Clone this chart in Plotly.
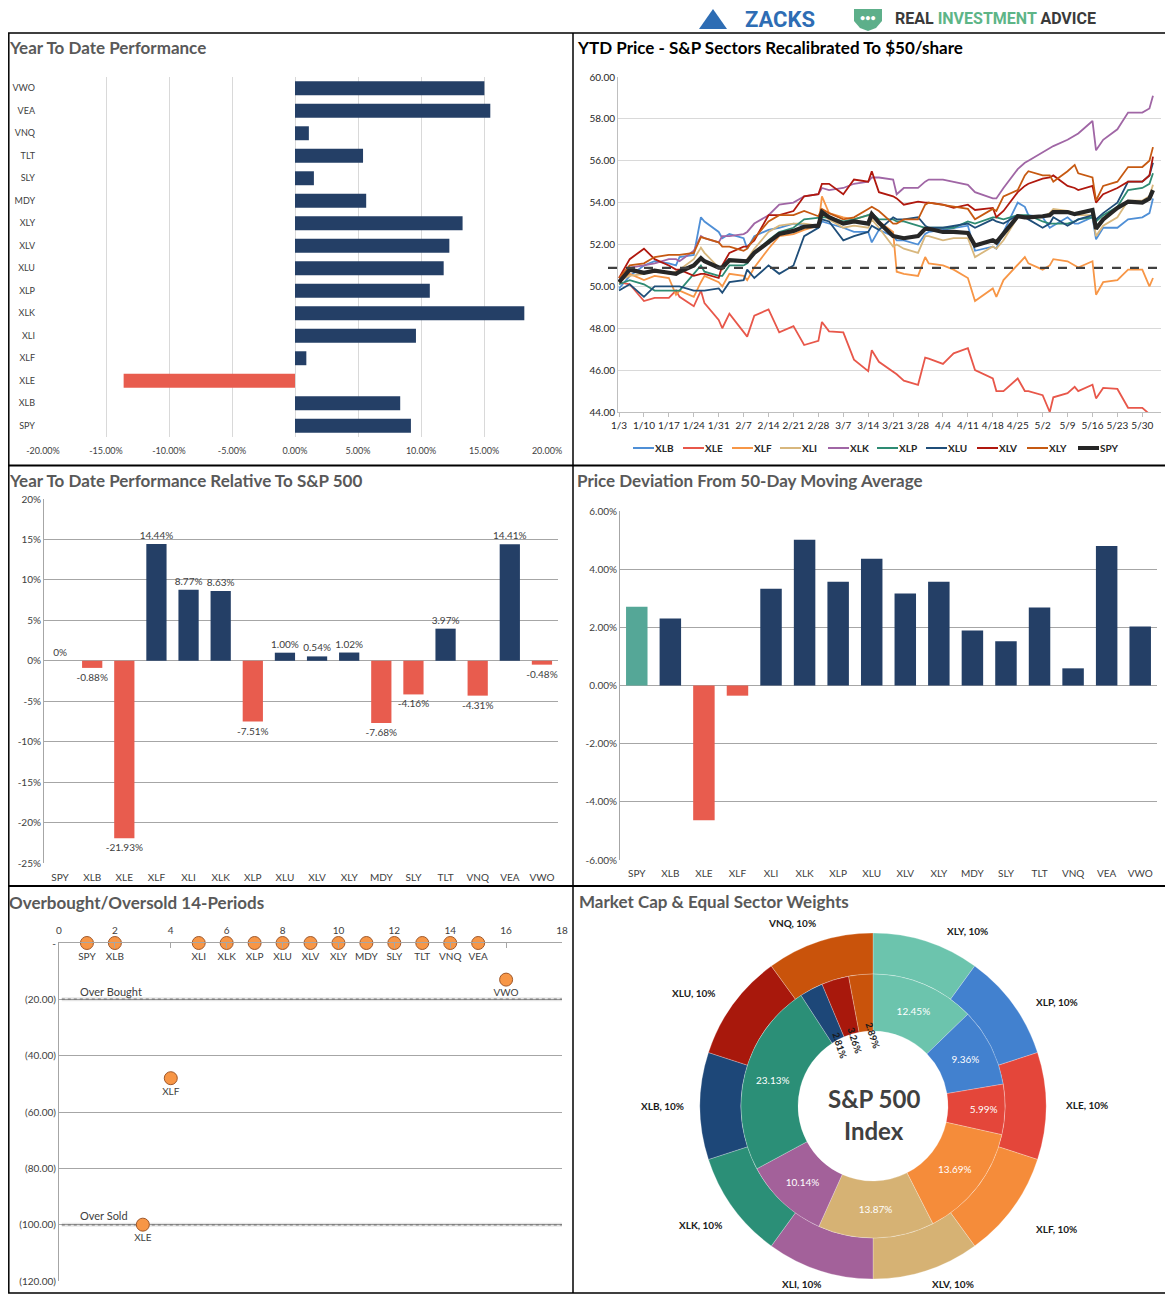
import plotly.graph_objects as go

# page body has an 8px margin; the figure is sized/offset so reference pixel coords line up
OFF = 8
W, H = 1173 - OFF, 1299 - OFF
def fx(p): return (p - OFF) / W
def fy(p): return 1 - (p - OFF) / H

FONT = "Lato"
NAVY = "#243F66"
RED = "#E85C4E"
TEAL = "#55A797"
GRAY_TXT = "#404040"

# ---------------- data ----------------
tickers = ["SPY", "XLB", "XLE", "XLF", "XLI", "XLK", "XLP", "XLU", "XLV", "XLY",
           "MDY", "SLY", "TLT", "VNQ", "VEA", "VWO"]
ytd_perf = [9.2, 8.35, -13.6, 0.9, 9.6, 18.2, 10.7, 11.8, 12.25, 13.3,
            5.65, 1.5, 5.4, 1.1, 15.5, 15.03]
ytd_ticks = [-20, -15, -10, -5, 0, 5, 10, 15, 20]

rel_perf = [0, -0.88, -21.93, 14.44, 8.77, 8.63, -7.51, 1.00, 0.54, 1.02,
            -7.68, -4.16, 3.97, -4.31, 14.41, -0.48]
rel_ticks = [20, 15, 10, 5, 0, -5, -10, -15, -20, -25]

dev_50d = [2.71, 2.30, -4.63, -0.35, 3.33, 5.01, 3.57, 4.36, 3.16, 3.57,
           1.89, 1.52, 2.68, 0.59, 4.80, 2.03]
dev_ticks = [6, 4, 2, 0, -2, -4, -6]

ob_x = [1, 2, 3, 4, 5, 6, 7, 8, 9, 10, 11, 12, 13, 14, 15, 16]
ob_y = [0, 0, -100, -48, 0, 0, 0, 0, 0, 0, 0, 0, 0, 0, 0, -13]
ob_yticks = [0, -20, -40, -60, -80, -100, -120]
ob_yticktext = ["-", "(20.00)", "(40.00)", "(60.00)", "(80.00)", "(100.00)", "(120.00)"]
overbought_level = -20
oversold_level = -100

dates = ["2017-01-03", "2017-01-06", "2017-01-10", "2017-01-13", "2017-01-17", "2017-01-19",
         "2017-01-20", "2017-01-24", "2017-01-26", "2017-01-27", "2017-01-31", "2017-02-01",
         "2017-02-03", "2017-02-07", "2017-02-08", "2017-02-10", "2017-02-14", "2017-02-17",
         "2017-02-21", "2017-02-24", "2017-02-28", "2017-03-01", "2017-03-03", "2017-03-07",
         "2017-03-10", "2017-03-14", "2017-03-15", "2017-03-17", "2017-03-21", "2017-03-22",
         "2017-03-24", "2017-03-28", "2017-03-30", "2017-03-31", "2017-04-04", "2017-04-07",
         "2017-04-11", "2017-04-13", "2017-04-18", "2017-04-19", "2017-04-21", "2017-04-25",
         "2017-04-27", "2017-04-28", "2017-05-02", "2017-05-04", "2017-05-05", "2017-05-09",
         "2017-05-11", "2017-05-12", "2017-05-16", "2017-05-17", "2017-05-19", "2017-05-23",
         "2017-05-26", "2017-05-30", "2017-06-01", "2017-06-02"]

xlb = [49.9, 50.5, 51.0, 51.2, 51.1, 51.0, 51.4, 51.5, 53.3, 53.1, 52.6, 52.3, 52.5, 52.3, 51.8,
       52.4, 52.7, 52.8, 53.0, 52.9, 52.8, 53.1, 53.0, 52.8, 52.6, 52.6, 52.1, 52.7, 52.4, 52.2,
       52.2, 52.0, 52.5, 52.6, 52.7, 52.8, 52.9, 51.7, 51.9, 51.8, 52.6, 54.0, 53.8, 53.4, 53.3,
       52.8, 52.9, 53.3, 53.0, 53.0, 53.3, 52.25, 52.8, 52.8, 53.2, 53.3, 53.5, 54.2]
xle = [50.2, 50.1, 49.3, 49.45, 49.45, 49.8, 49.5, 49.05, 49.8, 49.2, 48.4, 48.0, 48.7, 47.8, 47.6,
       48.6, 48.9, 47.8, 48.1, 47.2, 47.4, 48.3, 47.85, 47.8, 46.5, 45.95, 46.95, 46.4, 45.95, 45.8,
       45.5, 45.3, 46.6, 46.55, 46.3, 46.8, 47.05, 46.0, 45.6, 45.0, 45.0, 45.6, 45.0, 45.0, 44.8,
       44.0, 44.7, 44.9, 45.2, 45.0, 45.3, 44.65, 45.15, 45.1, 44.2, 44.2, 43.9, 43.8]
xlf = [50.2, 50.6, 50.3, 50.5, 50.4, 49.6, 49.8, 49.5, 50.2, 50.5, 50.2, 50.0, 50.6, 50.5, 50.3,
       50.9, 51.8, 52.4, 52.5, 52.7, 52.9, 54.3, 53.5, 53.3, 53.2, 53.4, 53.3, 53.1, 52.6, 50.7,
       50.6, 50.5, 51.4, 51.1, 51.0, 50.8, 50.4, 49.3, 49.9, 49.5, 50.3, 51.0, 51.4, 51.1, 50.8,
       51.0, 51.3, 51.2, 51.0, 50.9, 51.2, 49.6, 50.2, 50.3, 50.8, 50.8, 50.0, 50.4]
xli = [50.3, 50.5, 50.6, 50.8, 50.6, 50.7, 50.8, 51.3, 51.85, 51.6, 50.9, 50.8, 51.2, 51.2, 51.3,
       51.8, 52.6, 52.9, 53.0, 53.0, 52.9, 53.4, 53.2, 52.8, 52.9, 52.8, 53.2, 52.8, 51.9, 52.0,
       51.8, 51.6, 52.4, 52.4, 52.2, 52.3, 52.3, 51.4, 51.9, 51.8, 52.2, 53.3, 53.3, 53.3, 53.3,
       53.5, 53.7, 53.6, 53.5, 53.4, 53.4, 52.4, 52.9, 53.3, 54.1, 54.1, 54.3, 54.85]
xlk = [50.3, 50.9, 51.0, 51.1, 51.3, 51.3, 51.2, 51.7, 52.4, 52.3, 52.1, 52.4, 52.4, 52.5, 52.6,
       53.0, 53.4, 53.9, 54.0, 54.3, 54.4, 54.7, 54.6, 54.7, 54.9, 55.0, 55.2, 55.2, 55.1, 54.4,
       54.7, 54.7, 55.0, 55.1, 55.1, 55.0, 54.85, 54.5, 54.2, 54.2, 54.7, 55.6, 55.9, 56.0, 56.4,
       56.6, 56.7, 57.0, 57.2, 57.3, 57.9, 56.5, 57.0, 57.5, 58.3, 58.3, 58.5, 59.1]
xlp = [50.1, 50.3, 50.1, 49.8, 49.8, 49.8, 49.8, 50.6, 51.0, 50.7, 50.5, 50.5, 51.0, 51.0, 51.1,
       51.6, 52.2, 52.6, 52.8, 53.2, 53.3, 53.3, 53.3, 53.1, 53.2, 53.4, 53.5, 53.2, 53.2, 53.1,
       53.1, 52.9, 52.8, 52.8, 52.8, 52.8, 53.1, 53.0, 53.3, 53.3, 53.2, 53.4, 53.4, 53.4, 53.1,
       53.0, 53.0, 53.0, 53.1, 53.2, 53.3, 53.1, 53.4, 53.8, 54.6, 54.7, 54.9, 55.4]
xlu = [49.8, 50.1, 49.5, 50.0, 50.0, 50.0, 50.0, 49.8, 49.8, 49.8, 49.9, 49.7, 50.2, 50.3, 50.8,
       50.4, 51.0, 50.6, 51.0, 52.4, 52.8, 53.2, 53.1, 52.2, 52.4, 52.6, 52.9, 52.7, 53.3, 53.2,
       53.2, 53.3, 52.9, 52.8, 52.8, 52.9, 53.0, 52.8, 53.2, 53.1, 53.0, 53.4, 53.3, 53.2, 52.8,
       53.0, 53.3, 52.9, 53.1, 53.2, 53.4, 53.2, 53.5, 54.0, 55.0, 55.0, 55.3, 55.9]
xlv = [50.4, 51.3, 51.8, 51.3, 51.0, 50.8, 50.8, 50.5, 50.6, 50.6, 50.4, 51.0, 51.6, 51.9, 51.9,
       52.2, 53.4, 53.4, 53.6, 54.3, 54.4, 54.9, 54.9, 54.4, 55.1, 55.0, 55.5, 54.5, 54.3, 54.2,
       53.9, 54.05, 54.0, 54.0, 53.9, 53.75, 53.9, 53.65, 53.75, 53.3, 53.6, 54.5, 54.8, 54.9, 55.15,
       55.2, 55.3, 54.8, 54.7, 54.6, 54.8, 54.0, 54.4, 54.7, 55.0, 55.0, 55.3, 56.2]
xly = [50.4, 51.0, 51.1, 51.4, 51.5, 51.5, 51.5, 51.6, 52.35, 52.3, 52.1, 51.9, 51.9, 51.7, 51.8,
       52.3, 53.1, 53.4, 53.4, 53.6, 53.35, 53.7, 53.5, 53.2, 53.3, 53.7, 53.8, 53.6, 53.0, 53.0,
       53.2, 53.2, 53.9, 54.0, 53.9, 53.8, 53.7, 53.2, 53.7, 53.6, 54.3, 54.6, 55.3, 55.5, 55.3,
       55.3, 55.0, 55.5, 55.8, 55.4, 55.2, 54.1, 54.8, 55.0, 55.7, 55.7, 56.0, 56.65]
spy = [50.2, 50.8, 50.65, 50.75, 50.65, 50.6, 50.7, 51.0, 51.35, 51.2, 50.9, 50.9, 51.25, 51.2, 51.2,
       51.6, 52.15, 52.5, 52.65, 52.85, 52.9, 53.55, 53.3, 53.0, 53.1, 53.0, 53.45, 53.05, 52.4, 52.35,
       52.3, 52.4, 52.75, 52.75, 52.6, 52.6, 52.55, 51.95, 52.2, 52.1, 52.5, 53.35, 53.3, 53.3, 53.35,
       53.4, 53.55, 53.55, 53.45, 53.5, 53.65, 52.75, 53.2, 53.75, 54.05, 54.0, 54.2, 54.6]
spy_start_level = 50.88

line_names = ["XLB", "XLE", "XLF", "XLI", "XLK", "XLP", "XLU", "XLV", "XLY", "SPY"]
line_series = [xlb, xle, xlf, xli, xlk, xlp, xlu, xlv, xly, spy]
line_colors = ["#4F8FD6", "#E8574A", "#F79646", "#D8B77D", "#A066A5",
               "#2E8B73", "#1F4E79", "#B0180E", "#C65911", "#262626"]

donut_names = ["XLY", "XLP", "XLE", "XLF", "XLV", "XLI", "XLK", "XLB", "XLU", "VNQ"]
equal_weights = [10, 10, 10, 10, 10, 10, 10, 10, 10, 10]
mcap_weights = [12.45, 9.36, 5.99, 13.69, 13.87, 10.14, 23.13, 2.81, 3.26, 2.89]
donut_colors = ["#6CC4AD", "#4281CF", "#E4463A", "#F58C3A", "#D6B274",
                "#A3619A", "#2B8F77", "#1D4778", "#A8180C", "#C9530B"]

# ---------------- figure ----------------
fig = go.Figure()

# Chart 1: YTD performance (horizontal bars)
fig.add_trace(go.Bar(
    x=ytd_perf, y=tickers, orientation="h", width=0.62,
    marker=dict(color=[RED if v < 0 else NAVY for v in ytd_perf], line=dict(width=0)),
    xaxis="x", yaxis="y", showlegend=False))

# Chart 2: lines
for name, ser, col in zip(line_names, line_series, line_colors):
    fig.add_trace(go.Scatter(
        x=dates, y=ser, mode="lines", name=name,
        line=dict(color=col, width=4.2 if name == "SPY" else 1.8),
        xaxis="x2", yaxis="y2", showlegend=False))

# Chart 3: relative performance
fig.add_trace(go.Bar(
    x=tickers, y=rel_perf, width=0.63,
    marker=dict(color=[RED if v < 0 else NAVY for v in rel_perf], line=dict(width=0)),
    text=[("0%" if v == 0 else f"{v:.2f}%") for v in rel_perf],
    textposition="outside", cliponaxis=False, constraintext="none",
    textfont=dict(family=FONT, size=10, color=GRAY_TXT),
    xaxis="x3", yaxis="y3", showlegend=False))

# Chart 4: deviation from 50-DMA
fig.add_trace(go.Bar(
    x=tickers, y=dev_50d, width=0.64,
    marker=dict(color=[TEAL if t == "SPY" else (RED if v < 0 else NAVY)
                       for t, v in zip(tickers, dev_50d)], line=dict(width=0)),
    xaxis="x4", yaxis="y4", showlegend=False))

# Chart 5: overbought / oversold
for lvl in (overbought_level, oversold_level):
    fig.add_trace(go.Scatter(
        x=[0.1, 18.1], y=[lvl, lvl], mode="lines",
        line=dict(color="rgba(0,0,0,0.10)", width=4),
        xaxis="x5", yaxis="y5", showlegend=False, hoverinfo="skip", cliponaxis=False))
    fig.add_trace(go.Scatter(
        x=[0.1, 18.1], y=[lvl, lvl], mode="lines",
        line=dict(color="#7F7F7F", width=1.5, dash="dot"),
        xaxis="x5", yaxis="y5", showlegend=False, hoverinfo="skip", cliponaxis=False))
fig.add_trace(go.Scatter(
    x=ob_x, y=ob_y, mode="markers+text", text=tickers, textposition="bottom center",
    textfont=dict(family=FONT, size=10, color=GRAY_TXT),
    marker=dict(size=13, color="#F79646", line=dict(color="#A0582A", width=1)),
    xaxis="x5", yaxis="y5", showlegend=False, cliponaxis=False))

# Chart 6: donuts
cx, cy = 873, 1106
r_out, r_mid, r_in = 173, 132, 75
fig.add_trace(go.Pie(
    labels=donut_names, values=equal_weights, sort=False, direction="clockwise", rotation=0,
    hole=r_mid / r_out, textinfo="none", showlegend=False,
    marker=dict(colors=donut_colors, line=dict(color="rgba(255,255,255,0.5)", width=0.5)),
    domain=dict(x=[fx(cx - r_out), fx(cx + r_out)], y=[fy(cy + r_out), fy(cy - r_out)])))
fig.add_trace(go.Pie(
    labels=donut_names, values=mcap_weights, sort=False, direction="clockwise", rotation=0,
    hole=r_in / r_mid, showlegend=False,
    text=[(f"{v:.2f}%" if v > 4 else "") for v in mcap_weights], textinfo="text",
    textposition="inside", insidetextorientation="horizontal",
    textfont=dict(family=FONT, size=10, color="white"),
    marker=dict(colors=donut_colors, line=dict(color="rgba(255,255,255,0.5)", width=0.5)),
    domain=dict(x=[fx(cx - r_mid), fx(cx + r_mid)], y=[fy(cy + r_mid), fy(cy - r_mid)])))

# ---------------- axes ----------------
tick_font = dict(family=FONT, size=10, color=GRAY_TXT)
grid_light = "#D9D9D9"
grid_mid = "#A6A6A6"

layout_axes = dict(
    xaxis=dict(domain=[fx(43), fx(547)], range=[-20, 20], tickmode="array", tickvals=ytd_ticks,
               ticktext=[f"{v:.2f}%" for v in ytd_ticks], showgrid=True, gridcolor=grid_light,
               zeroline=False, showline=False, anchor="y", automargin=False,
               ticklabelstandoff=7,
               tickfont=dict(family=FONT, size=9, color=GRAY_TXT)),
    yaxis=dict(domain=[fy(437), fy(77)], type="category", categoryorder="array",
               categoryarray=tickers, anchor="x", showgrid=False, showline=False,
               zeroline=False, automargin=False,
               tickfont=dict(family=FONT, size=9, color=GRAY_TXT), ticklabelstandoff=7),
    xaxis2=dict(domain=[fx(618), fx(1161)], type="date",
                range=["2017-01-02 17:00", "2017-06-04 06:00"],
                tick0="2017-01-03", dtick=7 * 86400000, tickformat="%-m/%-d",
                showgrid=False, showline=True, linecolor="#BFBFBF", ticks="outside",
                ticklen=4, tickcolor="#BFBFBF", anchor="y2", automargin=False,
                tickfont=dict(family=FONT, size=10, color="#262626")),
    yaxis2=dict(domain=[fy(412), fy(77)], range=[44, 60], dtick=2, tickformat=".2f",
                showgrid=True, gridcolor=grid_light, zeroline=False, anchor="x2",
                showline=True, linecolor="#BFBFBF", automargin=False,
                tickfont=dict(family=FONT, size=10, color="#262626")),
    xaxis3=dict(domain=[fx(44), fx(558)], type="category", anchor="y3", showgrid=False,
                showline=False, zeroline=False, automargin=False, tickfont=tick_font,
                ticklabelstandoff=7),
    yaxis3=dict(domain=[fy(863), fy(499)], range=[-25, 20], tickmode="array", tickvals=rel_ticks,
                ticktext=[f"{v}%" for v in rel_ticks], showgrid=True, gridcolor=grid_mid,
                zeroline=False, showline=True, linecolor=grid_mid, anchor="x3",
                automargin=False, tickfont=tick_font),
    xaxis4=dict(domain=[fx(620), fx(1157)], type="category", anchor="y4", showgrid=False,
                showline=False, zeroline=False, automargin=False, tickfont=tick_font,
                ticklabelstandoff=6),
    yaxis4=dict(domain=[fy(860), fy(511)], range=[-6, 6], tickmode="array", tickvals=dev_ticks,
                ticktext=[f"{v:.2f}%" for v in dev_ticks], showgrid=True, gridcolor=grid_mid,
                zeroline=True, zerolinecolor=grid_mid, zerolinewidth=1, showline=True,
                linecolor=grid_mid, anchor="x4", automargin=False, tickfont=tick_font),
    xaxis5=dict(domain=[fx(59), fx(562)], range=[0, 18], dtick=2, side="top",
                showgrid=False, showline=True, linecolor=grid_mid, ticks="inside",
                ticklen=5, tickcolor=grid_mid, zeroline=False, anchor="y5",
                automargin=False, tickfont=tick_font, ticklabelstandoff=4),
    yaxis5=dict(domain=[fy(1281), fy(943)], range=[-120, 0], tickmode="array",
                tickvals=ob_yticks, ticktext=ob_yticktext, showgrid=True, gridcolor=grid_mid,
                zeroline=False, showline=True, linecolor=grid_mid, anchor="x5",
                automargin=False, tickfont=tick_font),
)

# ---------------- annotations ----------------
ann = []
def txt(x, y, s, size=10, color=GRAY_TXT, xanchor="center", bold=False, angle=0, family=FONT):
    ann.append(dict(x=fx(x), y=fy(y), xref="paper", yref="paper", showarrow=False,
                    text=(f"<b>{s}</b>" if bold else s), xanchor=xanchor, yanchor="middle",
                    textangle=angle, font=dict(family=family, size=size, color=color)))

# panel titles
txt(7, 47, "Year To Date Performance", 17, "#595959", "left", True)
txt(575, 47, "YTD Price - S&P Sectors Recalibrated To $50/share", 17, "#000000", "left", True)
txt(7, 480, "Year To Date Performance Relative To S&P 500", 17, "#595959", "left", True)
txt(575, 480, "Price Deviation From 50-Day Moving Average", 17, "#595959", "left", True)
txt(7, 902, "Overbought/Oversold 14-Periods", 17, "#595959", "left", True)
txt(577, 901, "Market Cap & Equal Sector Weights", 17, "#595959", "left", True)

# header logos (kept inside the visible page area)
txt(780, 20, "<b>ZACKS</b>", 22, "#2E6DB4", "center", False, family="Roboto")
ann.append(dict(x=fx(893), y=fy(19), xref="paper", yref="paper", showarrow=False,
                xanchor="left", yanchor="middle",
                text="<b><span style='color:#3A3A3A'>REAL </span>"
                     "<span style='color:#5DB587'>INVESTMENT</span>"
                     "<span style='color:#3A3A3A'> ADVICE</span></b>",
                font=dict(family="Roboto", size=16)))
txt(868, 18, "•••", 9, "white", "center", True)

# line chart legend (manual)
leg_x = [633, 683, 732, 780, 828, 877, 926, 977, 1027, 1078]
shapes = []
for lx, name, col in zip(leg_x, line_names, line_colors):
    shapes.append(dict(type="line", xref="paper", yref="paper", x0=fx(lx), x1=fx(lx + 21),
                       y0=fy(448), y1=fy(448),
                       line=dict(color=col, width=4 if name == "SPY" else 2)))
    txt(lx + 20, 448, name, 10, "#262626", "left", True)

# overbought / oversold labels
txt(78, 991, "Over Bought", 11, GRAY_TXT, "left")
txt(78, 1215, "Over Sold", 11, GRAY_TXT, "left")

# donut labels
outer_pos = {"XLY": (967, 931), "XLP": (1057, 1002), "XLE": (1087, 1105),
             "XLF": (1056, 1229), "XLV": (953, 1284), "XLI": (801, 1284),
             "XLK": (700, 1225), "XLB": (662, 1106), "XLU": (694, 993), "VNQ": (792, 923)}
for name, w in zip(donut_names, equal_weights):
    px_, py_ = outer_pos[name]
    txt(px_, py_, f"{name}, {w}%", 10, "#1A1A1A", "center", True)
small_pos = {"XLB": (840, 1045), "XLU": (855, 1040), "VNQ": (873, 1035)}
for name, v in zip(donut_names, mcap_weights):
    if name in small_pos:
        px_, py_ = small_pos[name]
        txt(px_, py_, f"{v:.2f}%", 9.5, "#1A1A1A", "center", True, angle=72)
txt(874, 1098, "S&P 500", 24, "#404040", "center", True)
txt(874, 1130, "Index", 24, "#404040", "center", True)

# ---------------- shapes ----------------
shapes.append(dict(type="line", xref="paper", yref="y2", x0=fx(608), x1=fx(1166),
                   y0=spy_start_level, y1=spy_start_level,
                   line=dict(color="#404040", width=2.2, dash="dash")))
border = dict(color="#000000", width=1.5)
shapes += [
    dict(type="rect", xref="paper", yref="paper", x0=fx(8.8), x1=fx(1168), y0=fy(1293), y1=fy(33),
         line=border),
    dict(type="line", xref="paper", yref="paper", x0=fx(573), x1=fx(573), y0=fy(1293), y1=fy(33),
         line=border),
    dict(type="line", xref="paper", yref="paper", x0=fx(8), x1=fx(1168), y0=fy(465.5), y1=fy(465.5),
         line=dict(color="#000000", width=2)),
    dict(type="line", xref="paper", yref="paper", x0=fx(8), x1=fx(1168), y0=fy(886), y1=fy(886),
         line=dict(color="#000000", width=2)),
]
def path(points):
    return "M " + " L ".join(f"{fx(a):.5f},{fy(b):.5f}" for a, b in points) + " Z"
shapes.append(dict(type="path", xref="paper", yref="paper",
                   path=path([(699, 29), (713, 9), (727, 29)]),
                   fillcolor="#2E6DB4", line=dict(width=0)))
shapes.append(dict(type="path", xref="paper", yref="paper",
                   path=path([(854, 9), (882, 9), (882, 21), (876, 28), (868, 31), (860, 28), (854, 21)]),
                   fillcolor="#5DAF8A", line=dict(width=0)))

fig.update_layout(
    template="none",
    width=W, height=H, margin=dict(l=0, r=0, t=0, b=0, pad=0, autoexpand=False),
    paper_bgcolor="white", plot_bgcolor="white",
    font=dict(family=FONT, size=10, color=GRAY_TXT),
    annotations=ann, shapes=shapes, showlegend=False,
    **layout_axes)

fig.write_html("out.html")
